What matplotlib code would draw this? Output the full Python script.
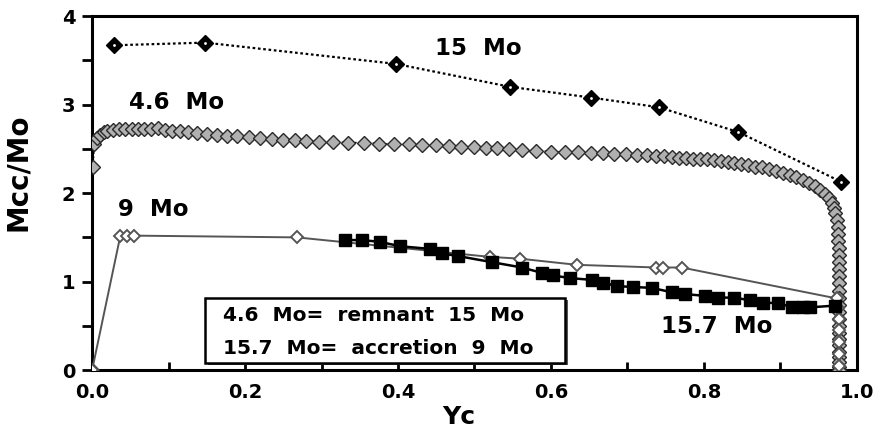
import matplotlib.pyplot as plt
from matplotlib.patches import Rectangle

plt.rcParams['font.family'] = ['DejaVu Sans']
plt.rcParams['font.weight'] = 'bold'

# 15 Mo track
x15 = [0.029, 0.148, 0.397, 0.547, 0.652, 0.741, 0.845, 0.979]
y15 = [3.67, 3.70, 3.46, 3.20, 3.08, 2.97, 2.69, 2.13]

# 4.6 Mo track (remnant of 15 Mo)
x46 = [0.0, 0.001, 0.003, 0.006, 0.010, 0.015, 0.020, 0.027, 0.035, 0.043,
       0.052, 0.060, 0.068, 0.077, 0.086, 0.095, 0.105, 0.115, 0.125, 0.137,
       0.150, 0.163, 0.177, 0.190, 0.205, 0.220, 0.235, 0.250, 0.265, 0.280,
       0.297, 0.315, 0.335, 0.355, 0.375, 0.395, 0.415, 0.432, 0.450, 0.467,
       0.483, 0.500, 0.515, 0.530, 0.545, 0.562, 0.580, 0.600, 0.618, 0.635,
       0.652, 0.668, 0.683, 0.698, 0.712, 0.725, 0.737, 0.748, 0.758, 0.768,
       0.777, 0.786, 0.795, 0.804, 0.813, 0.822, 0.831, 0.840, 0.849, 0.858,
       0.867, 0.876, 0.885, 0.894, 0.903, 0.912, 0.921, 0.930, 0.938, 0.945,
       0.952, 0.958, 0.963, 0.967, 0.970, 0.972, 0.974, 0.975, 0.976, 0.976,
       0.977, 0.977, 0.977, 0.977, 0.977, 0.977, 0.977, 0.977, 0.977, 0.977,
       0.977, 0.977, 0.977, 0.977, 0.977, 0.977, 0.977, 0.977, 0.977, 0.977]
y46 = [0.00, 2.29, 2.55, 2.62, 2.66, 2.69, 2.70, 2.71, 2.72, 2.72,
       2.72, 2.72, 2.72, 2.72, 2.74, 2.71, 2.70, 2.70, 2.69, 2.68,
       2.67, 2.66, 2.65, 2.64, 2.63, 2.62, 2.61, 2.60, 2.60, 2.59,
       2.58, 2.58, 2.57, 2.57, 2.56, 2.55, 2.55, 2.54, 2.54, 2.53,
       2.52, 2.52, 2.51, 2.51, 2.50, 2.49, 2.48, 2.47, 2.46, 2.46,
       2.45, 2.45, 2.44, 2.44, 2.43, 2.43, 2.42, 2.42, 2.41, 2.40,
       2.40, 2.39, 2.38, 2.38, 2.37, 2.36, 2.35, 2.34, 2.33, 2.32,
       2.30, 2.29, 2.27, 2.25, 2.23, 2.21, 2.18, 2.15, 2.12, 2.08,
       2.04, 1.99, 1.94, 1.89, 1.83, 1.77, 1.70, 1.62, 1.54, 1.46,
       1.38, 1.30, 1.22, 1.14, 1.06, 0.98, 0.90, 0.82, 0.74, 0.66,
       0.58, 0.50, 0.42, 0.35, 0.28, 0.21, 0.15, 0.09, 0.04, 0.00]

# 9 Mo track
x9 = [0.0, 0.037, 0.046, 0.055, 0.268, 0.520, 0.559, 0.634, 0.738, 0.746,
      0.771, 0.974, 0.976, 0.977, 0.977, 0.977, 0.977, 0.977]
y9 = [0.00, 1.52, 1.52, 1.52, 1.50, 1.28, 1.26, 1.19, 1.16, 1.16,
      1.16, 0.81, 0.70, 0.58, 0.45, 0.32, 0.18, 0.05]

# 15.7 Mo track (accretion on 9 Mo)
x157 = [0.331, 0.353, 0.376, 0.403, 0.442, 0.457, 0.478, 0.523, 0.562, 0.588,
        0.603, 0.625, 0.654, 0.668, 0.686, 0.707, 0.732, 0.758, 0.775, 0.801,
        0.818, 0.840, 0.860, 0.877, 0.897, 0.915, 0.929, 0.939, 0.972]
y157 = [1.47, 1.47, 1.45, 1.40, 1.37, 1.32, 1.29, 1.22, 1.16, 1.10,
        1.07, 1.04, 1.02, 0.99, 0.95, 0.94, 0.93, 0.88, 0.86, 0.84,
        0.82, 0.82, 0.79, 0.76, 0.76, 0.71, 0.71, 0.71, 0.73]

fig = plt.figure(figsize=(8.77, 4.34), dpi=100)
ax = fig.add_axes([0.105, 0.147, 0.872, 0.816])

# 4.6 Mo: dense grey diamonds on a dotted line
ax.plot(x46, y46, color='black', linestyle=':', linewidth=1.2,
        marker='D', markersize=7, markerfacecolor='#b0b0b0',
        markeredgecolor='#2a2a2a', markeredgewidth=1.0, zorder=3)

# 9 Mo: white diamonds on a thin grey line
ax.plot(x9, y9, color='#555555', linestyle='-', linewidth=1.4,
        marker='D', markersize=6.5, markerfacecolor='white',
        markeredgecolor='#555555', markeredgewidth=1.4, zorder=4)

# 15.7 Mo: black squares on a solid line
ax.plot(x157, y157, color='black', linestyle='-', linewidth=1.8,
        marker='s', markersize=8, markerfacecolor='black',
        markeredgecolor='black', zorder=5)

# 15 Mo: black diamonds with a white dot on a dotted line
ax.plot(x15, y15, color='black', linestyle=(0, (1.2, 1.2)), linewidth=1.6,
        marker='D', markersize=8, markerfacecolor='black',
        markeredgecolor='black', zorder=6)
ax.plot(x15, y15, linestyle='none', marker='o', markersize=2,
        markerfacecolor='white', markeredgewidth=0, zorder=7)

# curve labels
lab = dict(fontsize=16.5, fontweight='bold', ha='center', va='center')
ax.text(0.505, 3.63, '15  Mo', **lab)
ax.text(0.110, 3.02, '4.6  Mo', **lab)
ax.text(0.080, 1.82, '9  Mo', **lab)
ax.text(0.817, 0.49, '15.7  Mo', **lab)

# note box with shadow
ax.add_patch(Rectangle((0.152, 0.055), 0.47, 0.74, facecolor='#555555',
                       edgecolor='none', zorder=8))
ax.add_patch(Rectangle((0.148, 0.08), 0.47, 0.74, facecolor='white',
                       edgecolor='black', linewidth=1.8, zorder=9))
ax.text(0.171, 0.62, '4.6  Mo=  remnant  15  Mo', fontsize=14.5,
        fontweight='bold', va='center', ha='left', zorder=10)
ax.text(0.171, 0.25, '15.7  Mo=  accretion  9  Mo', fontsize=14.5,
        fontweight='bold', va='center', ha='left', zorder=10)

ax.set_xlim(0, 1.0)
ax.set_ylim(0, 4)
ax.set_xticks([0.0, 0.2, 0.4, 0.6, 0.8, 1.0])
ax.set_xticklabels(['0.0', '0.2', '0.4', '0.6', '0.8', '1.0'])
ax.set_xticks([0.1, 0.3, 0.5, 0.7, 0.9], minor=True)
ax.set_yticks([0, 1, 2, 3, 4])
ax.set_yticks([0.5, 1.5, 2.5, 3.5], minor=True)

for t in ax.get_xticklabels() + ax.get_yticklabels():
    t.set_fontsize(14)
    t.set_fontweight('bold')

ax.tick_params(axis='x', which='both', direction='in', length=6, width=2, pad=9)
ax.tick_params(axis='y', which='both', direction='out', length=7, width=2, pad=5)
for s in ax.spines.values():
    s.set_linewidth(2.2)

ax.set_xlabel('Yc', fontsize=18, fontweight='bold')
ax.xaxis.set_label_coords(0.479, -0.098, transform=ax.transAxes)
ax.set_ylabel('Mcc/Mo', fontsize=20, fontweight='bold')
ax.yaxis.set_label_coords(-0.078, 0.56, transform=ax.transAxes)

fig.savefig('out.png', dpi=100)
